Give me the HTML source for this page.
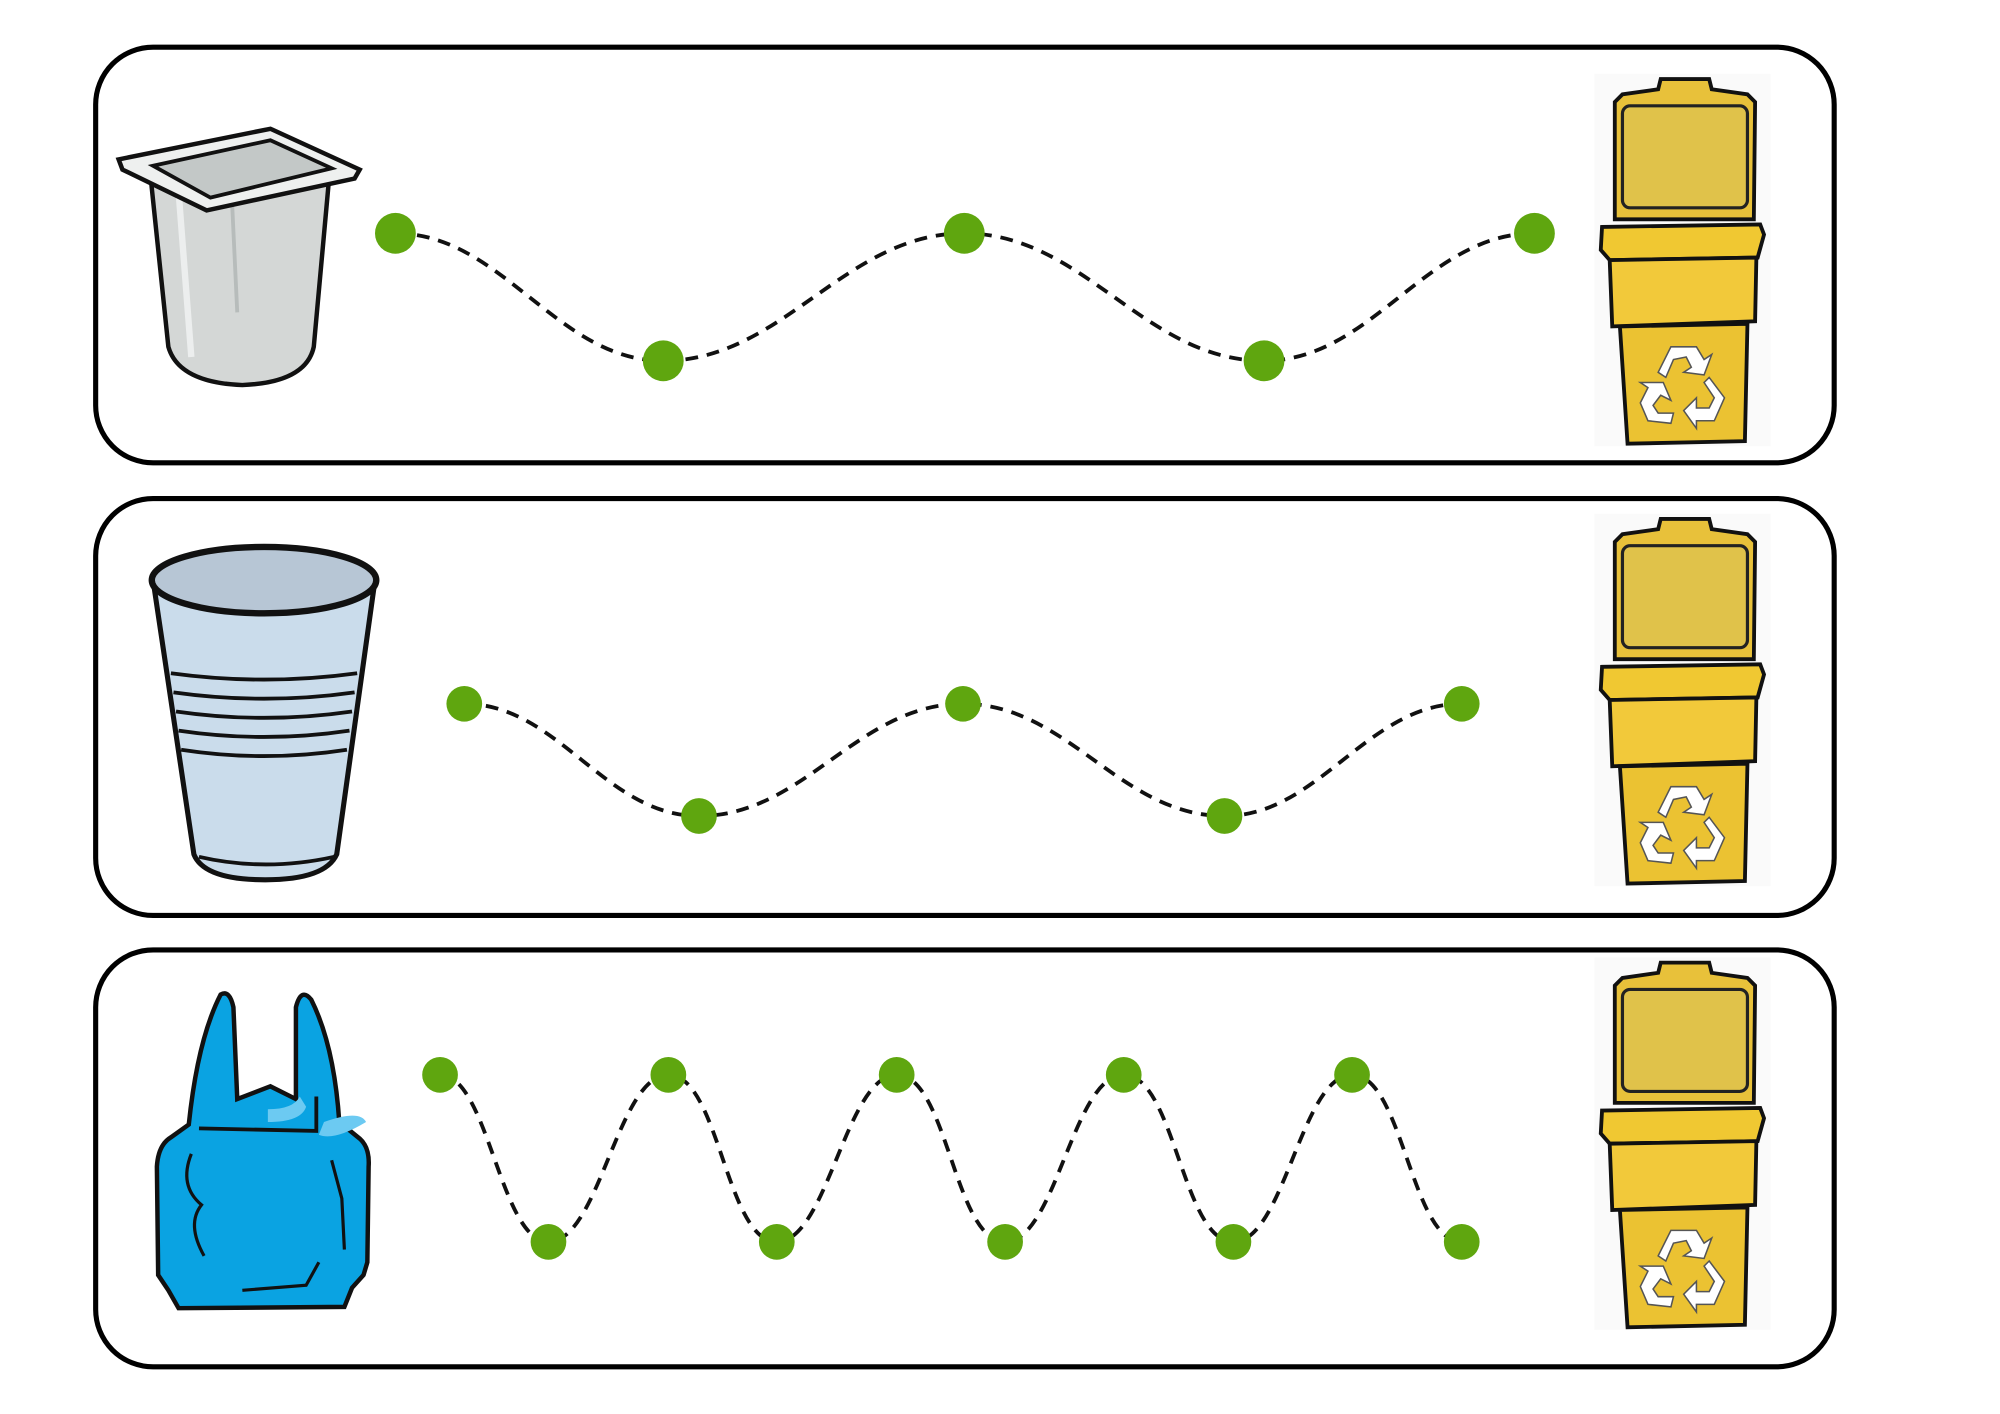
<!DOCTYPE html>
<html><head><meta charset="utf-8"><style>html,body{margin:0;padding:0;background:#fff}svg{display:block}</style></head>
<body>
<svg width="2000" height="1414" viewBox="0 0 1568 1109" preserveAspectRatio="none" xmlns="http://www.w3.org/2000/svg">
<defs>
<g id="bin">
  <rect x="1250" y="58" width="138" height="292" fill="#f6f6f6" opacity="0.5"/>
  <path d="M1300 70 L1302 62 L1340 62 L1342 70 L1370 74 L1376 80 L1375 172 L1266 172 L1266 80 L1272 74 Z" fill="#e8c13a" stroke="#111" stroke-width="3"/>
  <rect x="1272" y="83" width="98" height="80" rx="6" fill="#e0c24a" stroke="#222" stroke-width="2.5"/>
  <path d="M1256 178 L1380 176 L1383 184 L1378 202 L1262 204 L1255 196 Z" fill="#f0c832" stroke="#111" stroke-width="3"/>
  <path d="M1262 204 L1377 202 L1376 252 L1264 256 Z" fill="#f2c93a" stroke="#111" stroke-width="3"/>
  <path d="M1270 256 L1370 254 L1368 346 L1276 348 Z" fill="#ebc232" stroke="#111" stroke-width="3"/>
  <g fill="#fff" stroke="#555" stroke-width="1.2">
    <path d="M1300 292 L1310 272 L1330 272 L1336 282 L1342 278 L1336 294 L1320 292 L1326 288 L1322 280 L1312 282 L1306 296 Z"/>
    <path d="M1340 296 L1352 312 L1344 330 L1330 330 L1330 336 L1320 322 L1330 312 L1330 320 L1340 320 L1344 312 L1336 300 Z"/>
    <path d="M1310 332 L1292 330 L1286 316 L1292 304 L1286 300 L1304 300 L1310 314 L1302 310 L1296 318 L1300 324 L1312 324 Z"/>
  </g>
</g>
</defs>

<g fill="#fff" stroke="#000" stroke-width="4">
  <rect x="75" y="37" width="1363" height="326" rx="45"/>
  <rect x="75" y="391" width="1363" height="327" rx="45"/>
  <rect x="75" y="745" width="1363" height="327" rx="45"/>
</g>

<g stroke="#111" stroke-width="3.5">
  <path d="M118 138 L258 140 L246 272 Q240 300 190 302 Q140 300 132 272 Z" fill="#d4d7d6"/>
  <path d="M140 150 L150 280" stroke="#eceeee" stroke-width="5"/>
  <path d="M182 160 L186 245" stroke="#b7bcbb" stroke-width="3"/>
  <path d="M93 125 L212 101 L282 133 L278 140 L162 165 L96 133 Z" fill="#eef0ef"/>
  <path d="M120 130 L212 110 L260 132 L165 155 Z" fill="#c3c8c7" stroke-width="3"/>
</g>

<g stroke="#111" stroke-width="4">
  <path d="M120 455 L294 455 L264 670 Q255 690 208 690 Q160 690 152 670 Z" fill="#cadceb"/>
  <ellipse cx="207" cy="455" rx="88" ry="26" fill="#b7c6d5" stroke-width="5"/>
  <g fill="none" stroke-width="3">
    <path d="M134 528 Q207 538 280 528"/><path d="M136 543 Q207 553 278 543"/>
    <path d="M138 558 Q207 568 276 558"/><path d="M140 573 Q207 583 274 573"/>
    <path d="M142 588 Q207 598 272 588"/>
  </g>
  <path d="M156 672 Q208 684 262 672" fill="none" stroke-width="3"/>
</g>

<g stroke="#111" stroke-width="3.5">
  <path d="M173 780 Q180 776 183 790 L186 862 L212 852 L232 862 L232 790 Q236 774 244 784 Q262 820 266 880 L282 893 Q290 900 289 915 L288 990 L285 1000 L276 1010 L270 1025 L140 1026 L132 1012 L124 1000 L123 915 Q124 898 134 892 L148 882 Q155 815 173 780 Z" fill="#0aa3e2"/>
  <path d="M156 885 L248 887 L248 860" fill="none" stroke-width="3"/>
  <path d="M150 905 Q140 930 158 945 Q146 960 160 985" fill="none" stroke-width="2.5"/>
  <path d="M260 910 L268 940 L270 980" fill="none" stroke-width="2.5"/>
  <path d="M190 1012 L240 1008 L250 990" fill="none" stroke-width="2.5"/>
</g>
<g fill="#6ccaf2"><path d="M210 870 Q230 870 235 860 L240 868 Q236 880 210 880 Z"/><path d="M254 880 Q282 870 287 880 Q262 895 250 890 Z"/></g>

<use href="#bin"/>
<use href="#bin" transform="translate(0,345)"/>
<use href="#bin" transform="translate(0,693)"/>

<g fill="none" stroke="#111" stroke-width="3" stroke-dasharray="10 7">
  <path d="M310 183 C394 183 436 283 520 283 C614 283 662 183 756 183 C850 183 897 283 991 283 C1076 283 1118 183 1203 183"/>
  <path d="M364 552 C438 552 474 640 548 640 C631 640 672 552 755 552 C837 552 878 640 960 640 C1034 640 1072 552 1146 552"/>
  <path d="M345 843 C383 843 392 974 430 974 C470 974 484 843 524 843 C564 843 569 974 609 974 C649 974 663 843 703 843 C743 843 748 974 788 974 C828 974 841 843 881 843 C921 843 927 974 967 974 C1007 974 1020 843 1060 843 C1100 843 1106 974 1146 974"/>
</g>
<g fill="#5fa60f">
  <circle cx="310" cy="183" r="16"/><circle cx="520" cy="283" r="16"/><circle cx="756" cy="183" r="16"/><circle cx="991" cy="283" r="16"/><circle cx="1203" cy="183" r="16"/>
  <circle cx="364" cy="552" r="14"/><circle cx="548" cy="640" r="14"/><circle cx="755" cy="552" r="14"/><circle cx="960" cy="640" r="14"/><circle cx="1146" cy="552" r="14"/>
  <circle cx="345" cy="843" r="14"/><circle cx="524" cy="843" r="14"/><circle cx="703" cy="843" r="14"/><circle cx="881" cy="843" r="14"/><circle cx="1060" cy="843" r="14"/>
  <circle cx="430" cy="974" r="14"/><circle cx="609" cy="974" r="14"/><circle cx="788" cy="974" r="14"/><circle cx="967" cy="974" r="14"/><circle cx="1146" cy="974" r="14"/>
</g>
</svg>
</body></html>
